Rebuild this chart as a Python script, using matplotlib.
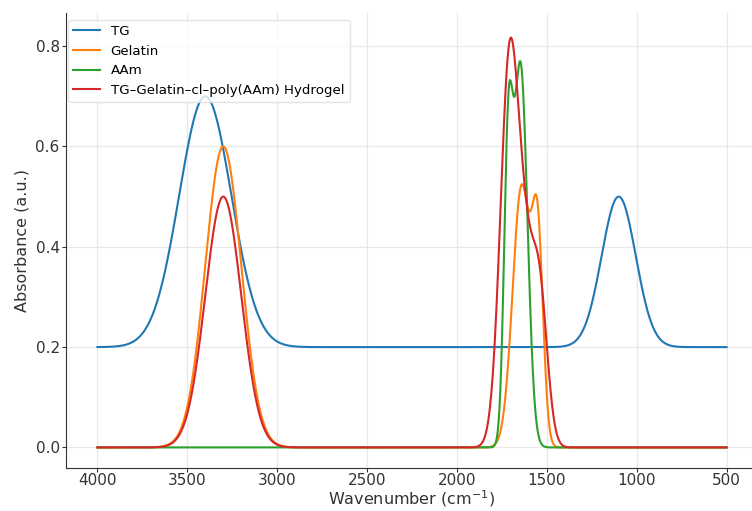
import numpy as np
import matplotlib
matplotlib.use('Agg')
import matplotlib.pyplot as plt

# peak tables: centre (cm-1), height, width (sigma, cm-1)
series_names = ['TG', 'Gelatin', 'AAm', 'TG\u2013Gelatin\u2013cl\u2013poly(AAm) Hydrogel']
baselines = [0.2, 0.0, 0.0, 0.0]

tg_centers = [3400, 1100]
tg_heights = [0.50, 0.30]
tg_widths = [145, 95]

gelatin_centers = [3300, 1640, 1550]
gelatin_heights = [0.60, 0.52, 0.38]
gelatin_widths = [100, 50, 30]

aam_centers = [1715, 1646]
aam_heights = [0.55, 0.76]
aam_widths = [24, 38]

gel_centers = [3300, 1705, 1620, 1545]
gel_heights = [0.50, 0.79, 0.22, 0.33]
gel_widths = [100, 52, 40, 45]

peaks = [
    (tg_centers, tg_heights, tg_widths),
    (gelatin_centers, gelatin_heights, gelatin_widths),
    (aam_centers, aam_heights, aam_widths),
    (gel_centers, gel_heights, gel_widths),
]

colors = ['#1f77b4', '#ff7f0e', '#2ca02c', '#d62728']


def spectrum(x, base, centers, heights, widths):
    y = np.full_like(x, base)
    for c, h, w in zip(centers, heights, widths):
        y += h * np.exp(-(x - c) ** 2 / (2 * w ** 2))
    return y


def main():
    wn = np.linspace(4000, 500, 2000)
    fig = plt.figure(figsize=(7.52, 5.11), dpi=100)
    ax = fig.add_axes([66 / 752, 43 / 511, 692 / 752, 455 / 511])
    for name, base, pk, color in zip(series_names, baselines, peaks, colors):
        ax.plot(wn, spectrum(wn, base, *pk), color=color, lw=1.5, label=name)
    ax.set_xlim(4175, 325)
    ax.set_ylim(-0.041, 0.866)
    ax.set_xticks([4000, 3500, 3000, 2500, 2000, 1500, 1000, 500])
    ax.set_yticks([0.0, 0.2, 0.4, 0.6, 0.8])
    ax.grid(True, color='#e8e8e8', lw=0.9)
    ax.set_axisbelow(True)
    for side in ['top', 'right']:
        ax.spines[side].set_visible(False)
    for side in ['left', 'bottom']:
        ax.spines[side].set_color('#333333')
    ax.tick_params(direction='out', length=3, pad=1.5, colors='#333333', labelsize=11)
    ax.tick_params(axis='x', pad=0.5)
    ax.set_xlabel('Wavenumber (cm$^{-1}$)', fontsize=11.5, color='#333333', labelpad=0.5)
    ax.set_ylabel('Absorbance (a.u.)', fontsize=11.5, color='#333333')
    leg = ax.legend(loc='upper left', bbox_to_anchor=(0.003, 0.985), borderaxespad=0,
                    fontsize=9.6, frameon=True, fancybox=True)
    leg.get_frame().set_edgecolor('#dddddd')
    fig.savefig('out.png', dpi=100)


if __name__ == '__main__':
    main()
